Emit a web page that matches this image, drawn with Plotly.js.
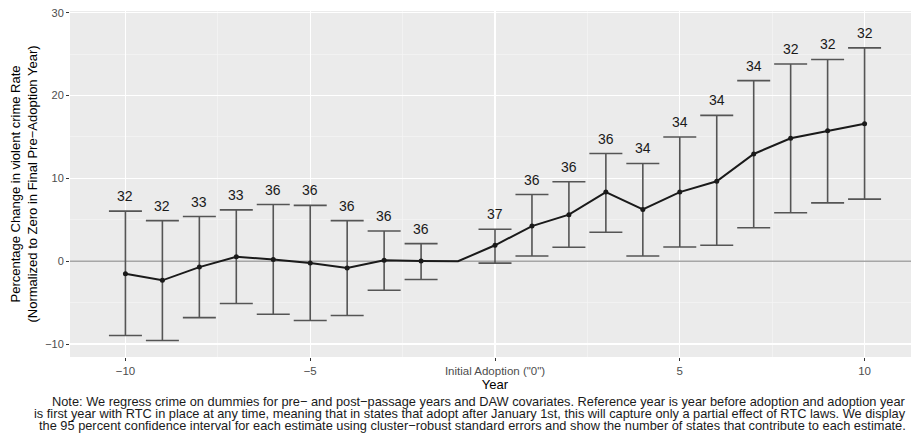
<!DOCTYPE html>
<html>
<head>
<meta charset="utf-8">
<script src="https://cdn.plot.ly/plotly-3.0.1.min.js"></script>
<style>
html,body{margin:0;padding:0;overflow:hidden;background:#fff;}
#chart{width:926px;height:433px;}
</style>
</head>
<body>
<div id="chart"></div>
<script>
// Event-time years (reference year -1 has no interval)
const years    = [-10, -9, -8, -7, -6, -5, -4, -3, -2, -1, 0, 1, 2, 3, 4, 5, 6, 7, 8, 9, 10];
const estimate = [-1.5, -2.3, -0.7, 0.55, 0.2, -0.2, -0.8, 0.12, 0.04, 0, 1.93, 4.25, 5.62, 8.35, 6.25, 8.35, 9.65, 12.95, 14.85, 15.75, 16.6];
const upperCI  = [6.05, 4.9, 5.4, 6.2, 6.85, 6.75, 4.9, 3.65, 2.13, null, 3.86, 8.05, 9.6, 13.0, 11.8, 15.0, 17.6, 21.8, 23.8, 24.35, 25.75];
const lowerCI  = [-8.95, -9.55, -6.8, -5.1, -6.4, -7.15, -6.55, -3.5, -2.2, null, -0.22, 0.64, 1.7, 3.5, 0.64, 1.73, 1.93, 4.05, 5.85, 7.05, 7.5];
const nStates  = [32, 32, 33, 33, 36, 36, 36, 36, 36, null, 37, 36, 36, 36, 34, 34, 34, 34, 32, 32, 32];

const xTickVals = [-10, -5, 0, 5, 10];
const xTickText = ['\u221210', '\u22125', 'Initial Adoption ("0")', '5', '10'];

const noteLines = [
  'Note: We regress crime on dummies for pre\u2212 and post\u2212passage years and DAW covariates. Reference year is year before adoption and adoption year',
  'is first year with RTC in place at any time, meaning that in states that adopt after January 1st, this will capture only a partial effect of RTC laws. We display',
  'the 95 percent confidence interval for each estimate using cluster\u2212robust standard errors and show the number of states that contribute to each estimate.'
];

const FONT = 'Liberation Sans, Arial, sans-serif';

// Build the subset with confidence intervals
const ex = [], ey = [], eplus = [], eminus = [];
years.forEach((yr, i) => {
  if (upperCI[i] !== null) {
    ex.push(yr); ey.push(estimate[i]);
    eplus.push(upperCI[i] - estimate[i]);
    eminus.push(estimate[i] - lowerCI[i]);
  }
});

const traces = [
  { // zero reference line
    x: [-11.5, 11.5], y: [0, 0], mode: 'lines',
    line: {color: '#a6a6a6', width: 1.5}, hoverinfo: 'skip', showlegend: false
  },
  { // error bars
    x: ex, y: ey, mode: 'markers',
    marker: {size: 0.1, color: 'rgba(0,0,0,0)'},
    error_y: {type: 'data', symmetric: false, array: eplus, arrayminus: eminus,
              color: '#555555', thickness: 1.6, width: 16.5},
    showlegend: false
  },
  { // estimate line
    x: years, y: estimate, mode: 'lines',
    line: {color: '#1a1a1a', width: 2}, showlegend: false
  },
  { // points
    x: ex, y: ey, mode: 'markers',
    marker: {size: 5, color: '#1a1a1a'}, showlegend: false
  }
];

const annotations = [];
years.forEach((yr, i) => {
  if (nStates[i] !== null) {
    annotations.push({
      x: yr, y: upperCI[i], xref: 'x', yref: 'y', text: String(nStates[i]),
      showarrow: false, yshift: 15, yanchor: 'middle', xanchor: 'center',
      font: {family: FONT, size: 14, color: '#1a1a1a'}
    });
  }
});
noteLines.forEach((line, k) => {
  annotations.push({
    xref: 'paper', yref: 'paper', x: 1, y: 0, xanchor: 'right', yanchor: 'middle',
    yshift: -44.5 - 12 * k, xshift: -12, align: 'right', showarrow: false,
    text: line,
    font: {family: FONT, size: 12.8, color: '#1a1a1a'}
  });
});

const layout = {
  width: 926, height: 433,
  margin: {l: 70, r: 6, t: 11, b: 76},
  paper_bgcolor: '#ffffff', plot_bgcolor: '#ebebeb',
  font: {family: FONT, color: '#4d4d4d'},
  showlegend: false,
  xaxis: {
    range: [-11.5, 11.5], tickvals: xTickVals, ticktext: xTickText,
    showgrid: true, gridcolor: '#ffffff', gridwidth: 1.4, zeroline: false,
    ticks: 'outside', ticklen: 3, tickcolor: '#333333', tickwidth: 1,
    tickfont: {size: 11.5, color: '#4d4d4d'},
    minor: {dtick: 2.5, tick0: -7.5, showgrid: true, gridcolor: '#f5f5f5', gridwidth: 0.7, ticks: ''},
    title: {text: 'Year', font: {size: 13, color: '#000000'}, standoff: 3},
    showline: false, automargin: false
  },
  yaxis: {
    range: [-11.55, 30.2], tickvals: [-10, 0, 10, 20, 30],
    showgrid: true, gridcolor: '#ffffff', gridwidth: 1.4, zeroline: false,
    ticks: 'outside', ticklen: 3, tickcolor: '#333333', tickwidth: 1,
    tickfont: {size: 11, color: '#4d4d4d'},
    minor: {tickvals: [-5, 5, 15, 25], showgrid: true, gridcolor: '#f5f5f5', gridwidth: 0.7, ticks: ''},
    title: {text: 'Percentage Change in violent crime Rate<br>(Normalized to Zero in Final Pre\u2212Adoption Year)',
            font: {size: 13, color: '#000000'}, standoff: 4},
    showline: false, automargin: false
  },
  annotations: annotations
};

Plotly.newPlot('chart', traces, layout, {displayModeBar: false, staticPlot: true});
</script>
</body>
</html>
